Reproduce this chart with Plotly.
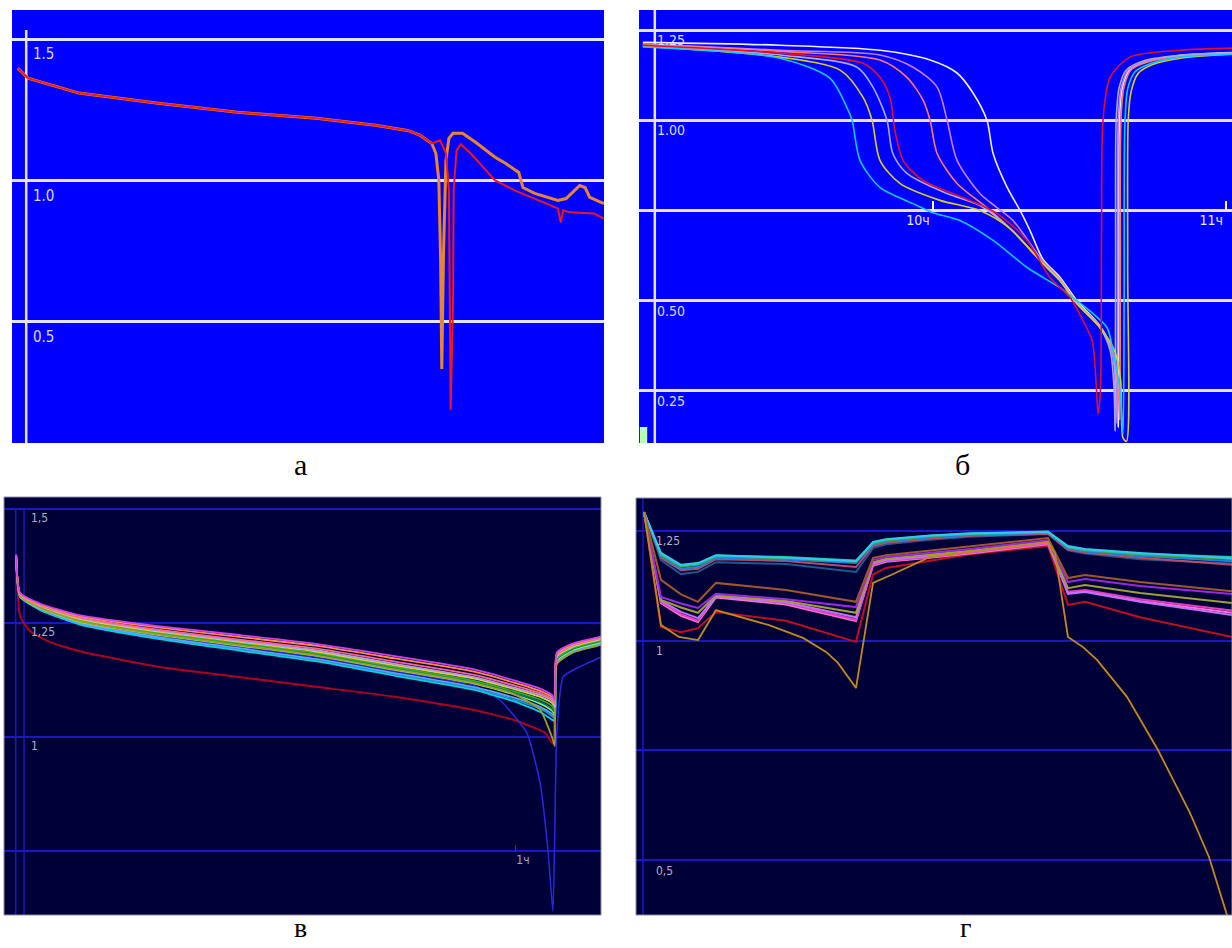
import plotly.graph_objects as go

W, H = 1232, 948
NARROW = "Liberation Sans Narrow, DejaVu Sans Condensed, Roboto, sans-serif"
SERIF = "Liberation Serif, Times New Roman, serif"

# ---------------- panel а (time in arbitrary units 0..100) ----------------
a_orange_t = [1.0, 2.7, 11.3, 24.7, 38.1, 51.4, 61.4, 66.8, 68.9, 70.9, 71.6, 72.1, 72.4, 72.6,
              72.9, 73.3, 73.8, 74.5, 76.1, 78.3, 81.6, 83.4, 85.6, 86.0, 86.3, 88.3, 92.2,
              93.6, 95.9, 96.8, 97.6, 100.0]
a_orange_v = [1.397, 1.362, 1.309, 1.273, 1.241, 1.220, 1.195, 1.177, 1.160, 1.131, 1.096, 1.0,
              0.716, 0.333, 0.752, 1.071, 1.149, 1.167, 1.167, 1.135, 1.082, 1.060, 1.028, 1.0,
              0.975, 0.954, 0.929, 0.936, 0.982, 0.975, 0.940, 0.918]
a_red_t = [1.0, 2.7, 11.3, 24.7, 38.1, 51.4, 61.4, 66.8, 68.9, 70.9, 72.3, 73.3, 73.8, 73.9, 74.1,
           74.5, 74.6, 75.1, 75.8, 77.5, 81.6, 84.9, 92.2, 92.7, 93.1, 94.2, 98.3, 100.0]
a_red_v = [1.397, 1.362, 1.309, 1.273, 1.241, 1.220, 1.195, 1.177, 1.160, 1.131, 1.142, 1.096,
           0.965, 0.574, 0.188, 0.574, 0.965, 1.106, 1.128, 1.095, 1.0, 0.965, 0.901, 0.851,
           0.894, 0.887, 0.883, 0.865]
a_ticks = [0.5, 1.0, 1.5]
a_ticktext = ["0.5", "1.0", "1.5"]

# ---------------- panel б (hours) ----------------
b_cyan_x = [9.01, 9.478, 9.648, 9.706, 9.724, 9.751, 9.819, 9.932, 10.0, 10.092, 10.205, 10.321,
            10.433, 10.491, 10.546, 10.594, 10.614, 10.638, 10.648, 10.652, 10.655, 10.665,
            10.69, 10.745, 10.843, 11.02]
b_cyan_v = [1.203, 1.172, 1.117, 1.036, 1.0, 0.889, 0.814, 0.769, 0.744, 0.722, 0.667, 0.592,
            0.536, 0.5, 0.464, 0.425, 0.36, 0.25, 0.13, 0.5, 1.0, 1.09, 1.135, 1.158, 1.175, 1.183]
b_olive_x = [9.01, 9.478, 9.683, 9.761, 9.792, 9.819, 9.887, 10.024, 10.16, 10.263, 10.375,
             10.433, 10.491, 10.570, 10.62, 10.64, 10.648, 10.66, 10.664, 10.666, 10.676, 10.70,
             10.751, 10.843, 11.02]
b_olive_v = [1.205, 1.175, 1.139, 1.064, 1.0, 0.889, 0.825, 0.778, 0.75, 0.70, 0.603, 0.556,
             0.492, 0.425, 0.36, 0.28, 0.12, 0.11, 0.6, 1.0, 1.08, 1.13, 1.155, 1.172, 1.183]
b_lav_x = [9.01, 9.478, 9.741, 9.795, 9.843, 9.863, 9.911, 10.048, 10.16, 10.263, 10.375, 10.433,
           10.491, 10.570, 10.605, 10.618, 10.621, 10.623, 10.625, 10.635, 10.66, 10.72, 10.843,
           11.02]
b_lav_v = [1.207, 1.181, 1.147, 1.092, 1.0, 0.908, 0.853, 0.797, 0.764, 0.70, 0.603, 0.556,
           0.492, 0.425, 0.36, 0.25, 0.14, 0.6, 1.0, 1.09, 1.14, 1.165, 1.18, 1.186]
b_red_x = [9.01, 9.478, 9.761, 9.819, 9.853, 9.870, 9.898, 9.966, 10.102, 10.218, 10.321, 10.399,
           10.468, 10.512, 10.543, 10.556, 10.563, 10.571, 10.575, 10.580, 10.604, 10.672,
           10.843, 11.02]
b_red_v = [1.208, 1.186, 1.158, 1.119, 1.064, 0.972, 0.889, 0.833, 0.786, 0.742, 0.667, 0.564,
           0.508, 0.444, 0.389, 0.278, 0.186, 0.25, 0.7, 1.0, 1.119, 1.175, 1.194, 1.2]
b_salmon_x = [9.01, 9.478, 9.819, 9.911, 9.966, 9.990, 10.014, 10.082, 10.184, 10.263, 10.375,
              10.433, 10.491, 10.570, 10.614, 10.632, 10.637, 10.639, 10.641, 10.651, 10.676,
              10.735, 10.843, 11.02]
b_salmon_v = [1.210, 1.191, 1.167, 1.119, 1.056, 1.0, 0.908, 0.825, 0.758, 0.70, 0.603, 0.556,
              0.492, 0.425, 0.36, 0.25, 0.17, 0.6, 1.0, 1.09, 1.14, 1.162, 1.178, 1.186]
b_violet_x = [9.01, 9.478, 9.819, 9.932, 10.014, 10.048, 10.082, 10.160, 10.218, 10.273, 10.375,
              10.433, 10.491, 10.570, 10.61, 10.625, 10.628, 10.630, 10.632, 10.642, 10.667,
              10.727, 10.843, 11.02]
b_violet_v = [1.212, 1.194, 1.181, 1.147, 1.092, 1.0, 0.889, 0.797, 0.758, 0.722, 0.61, 0.56,
              0.495, 0.428, 0.36, 0.25, 0.16, 0.6, 1.0, 1.09, 1.14, 1.163, 1.178, 1.185]
b_white_x = [9.01, 9.478, 9.819, 9.990, 10.082, 10.137, 10.184, 10.205, 10.253, 10.297, 10.331,
             10.375, 10.433, 10.491, 10.570, 10.612, 10.628, 10.632, 10.634, 10.636, 10.646,
             10.671, 10.73, 10.843, 11.02]
b_white_v = [1.216, 1.208, 1.194, 1.167, 1.131, 1.075, 1.0, 0.908, 0.814, 0.75, 0.694, 0.615,
             0.565, 0.50, 0.43, 0.36, 0.25, 0.15, 0.6, 1.0, 1.09, 1.14, 1.163, 1.18, 1.188]
b_ticks = [0.25, 0.5, 0.75, 1.0, 1.25]
b_ticktext = ["0.25", "0.50", "", "1.00", "1.25"]
b_hours = [10, 11]
b_hourtext = ["10ч", "11ч"]

# ---------------- panel в (hours) ----------------
v_x = [-0.016, -0.008, 0.033, 0.112, 0.272, 0.433, 0.593, 0.754, 0.915, 0.996, 1.049, 1.073,
       1.079, 1.083, 1.116, 1.173]
v_magenta = [1.400, 1.316, 1.292, 1.267, 1.243, 1.224, 1.204, 1.177, 1.148, 1.124, 1.106, 1.092, 1.080, 1.185, 1.205, 1.220]
v_orange = [1.398, 1.314, 1.290, 1.265, 1.240, 1.220, 1.200, 1.172, 1.143, 1.119, 1.101, 1.088, 1.076, 1.182, 1.203, 1.219]
v_pink = [1.397, 1.313, 1.289, 1.262, 1.235, 1.214, 1.194, 1.165, 1.136, 1.113, 1.096, 1.083, 1.073, 1.180, 1.201, 1.217]
v_lilac = [1.398, 1.314, 1.288, 1.261, 1.233, 1.211, 1.190, 1.160, 1.131, 1.108, 1.092, 1.080, 1.070, 1.178, 1.200, 1.216]
v_yellow = [1.396, 1.312, 1.287, 1.259, 1.231, 1.209, 1.187, 1.157, 1.128, 1.105, 1.088, 1.075, 1.066, 1.176, 1.198, 1.214]
v_green = [1.395, 1.311, 1.285, 1.257, 1.228, 1.206, 1.184, 1.153, 1.123, 1.100, 1.082, 1.068, 1.060, 1.172, 1.195, 1.212]
v_darkteal = [1.394, 1.310, 1.284, 1.255, 1.226, 1.203, 1.181, 1.150, 1.120, 1.096, 1.077, 1.062, 1.055, 1.170, 1.193, 1.210]
v_lime = [1.394, 1.309, 1.282, 1.253, 1.224, 1.201, 1.178, 1.147, 1.117, 1.093, 1.073, 1.058, 1.050, 1.168, 1.191, 1.208]
v_lightblue = [1.393, 1.308, 1.280, 1.250, 1.219, 1.195, 1.171, 1.140, 1.109, 1.086, 1.066, 1.051, 1.045, 1.165, 1.189, 1.206]
v_cyan = [1.392, 1.307, 1.278, 1.247, 1.215, 1.190, 1.166, 1.134, 1.103, 1.078, 1.055, 1.038, 1.035, 1.162, 1.186, 1.203]
v_olive = [1.395, 1.310, 1.283, 1.254, 1.225, 1.202, 1.179, 1.148, 1.118, 1.094, 1.060, 1.000, 0.980, 1.160, 1.185, 1.202]
v_tealblue = [1.393, 1.308, 1.279, 1.248, 1.217, 1.192, 1.168, 1.137, 1.106, 1.082, 1.062, 1.046, 1.040, 1.163, 1.187, 1.204]
v_red_x = [-0.016, -0.008, 0.012, 0.053, 0.120, 0.272, 0.433, 0.593, 0.754, 0.915, 0.996, 1.059,
           1.075, 1.083, 1.116, 1.173]
v_red = [1.395, 1.265, 1.232, 1.208, 1.186, 1.154, 1.132, 1.110, 1.088, 1.059, 1.037, 1.009,
         0.985, 1.165, 1.193, 1.210]
v_blue_x = [-0.016, -0.008, 0.033, 0.112, 0.272, 0.433, 0.593, 0.754, 0.915, 0.967, 1.022, 1.049,
            1.065, 1.075, 1.079, 1.083, 1.096, 1.130, 1.173]
v_blue = [1.393, 1.308, 1.280, 1.251, 1.221, 1.198, 1.175, 1.144, 1.113, 1.081, 1.009, 0.899,
          0.752, 0.618, 0.800, 1.009, 1.132, 1.154, 1.175]
v_ticks = [0.75, 1.0, 1.25, 1.5]
v_ticktext = ["", "1", "1,25", "1,5"]
v_hours = [1]
v_hourtext = ["1ч"]

# ---------------- panel г (time in arbitrary units 0..100) ----------------
g_x = [1.34, 4.19, 7.55, 10.4, 13.42, 25.17, 36.91, 39.77, 41.95, 49.33, 56.04, 69.13, 72.48,
       75.34, 84.56, 100.0]
g_cyan = [1.292, 1.199, 1.172, 1.176, 1.194, 1.188, 1.180, 1.224, 1.230, 1.239, 1.244, 1.247, 1.215, 1.208, 1.199, 1.187]
g_teal = [1.292, 1.196, 1.170, 1.174, 1.193, 1.190, 1.182, 1.222, 1.229, 1.238, 1.242, 1.246, 1.212, 1.206, 1.197, 1.190]
g_green = [1.292, 1.194, 1.168, 1.172, 1.191, 1.187, 1.179, 1.220, 1.227, 1.237, 1.243, 1.248, 1.213, 1.205, 1.195, 1.185]
g_blue = [1.292, 1.192, 1.163, 1.167, 1.188, 1.184, 1.176, 1.218, 1.225, 1.235, 1.240, 1.245, 1.210, 1.203, 1.192, 1.180]
g_rose = [1.292, 1.188, 1.160, 1.163, 1.185, 1.181, 1.167, 1.215, 1.222, 1.232, 1.238, 1.243, 1.207, 1.200, 1.188, 1.172]
g_slate = [1.292, 1.183, 1.151, 1.156, 1.178, 1.174, 1.156, 1.210, 1.219, 1.229, 1.236, 1.242, 1.205, 1.198, 1.185, 1.175]
g_brown = [1.292, 1.138, 1.105, 1.088, 1.131, 1.115, 1.088, 1.188, 1.194, 1.205, 1.215, 1.233, 1.142, 1.149, 1.133, 1.112]
g_purple = [1.292, 1.099, 1.084, 1.074, 1.106, 1.094, 1.076, 1.183, 1.190, 1.199, 1.208, 1.228, 1.133, 1.140, 1.124, 1.106]
g_olive = [1.292, 1.092, 1.075, 1.063, 1.103, 1.090, 1.063, 1.178, 1.186, 1.195, 1.204, 1.225, 1.119, 1.126, 1.108, 1.085]
g_violet = [1.292, 1.090, 1.065, 1.051, 1.100, 1.087, 1.053, 1.175, 1.183, 1.192, 1.202, 1.223, 1.106, 1.110, 1.088, 1.058]
g_magenta = [1.292, 1.088, 1.060, 1.045, 1.103, 1.085, 1.047, 1.172, 1.181, 1.190, 1.200, 1.221, 1.111, 1.115, 1.094, 1.068]
g_pink = [1.292, 1.085, 1.056, 1.042, 1.098, 1.082, 1.044, 1.170, 1.179, 1.188, 1.198, 1.219, 1.108, 1.112, 1.090, 1.063]
g_red = [1.292, 1.031, 1.019, 1.028, 1.065, 1.045, 0.997, 1.150, 1.165, 1.182, 1.196, 1.215, 1.081, 1.088, 1.053, 1.008]
g_gold_x = [1.34, 4.19, 7.21, 10.4, 13.42, 22.32, 28.02, 31.88, 33.89, 36.91, 39.77, 42.79, 49.33,
            69.13, 70.3, 72.48, 75.0, 77.35, 82.38, 87.58, 92.95, 96.14, 99.16]
g_gold = [1.292, 1.035, 1.008, 1.001, 1.069, 1.035, 1.006, 0.974, 0.949, 0.892, 1.131, 1.149,
          1.190, 1.224, 1.199, 1.008, 0.985, 0.956, 0.872, 0.751, 0.608, 0.508, 0.376]
g_ticks = [0.5, 0.75, 1.0, 1.25]
g_ticktext = ["0,5", "", "1", "1,25"]

fig = go.Figure()


def add(xs, ys, color, width, ax, shape="linear", smoothing=1.0):
    line = dict(color=color, width=width, shape=shape)
    if shape == "spline":
        line["smoothing"] = smoothing
    fig.add_trace(go.Scatter(x=xs, y=ys, mode="lines", xaxis=ax[0], yaxis=ax[1], line=line,
                             showlegend=False, hoverinfo="skip"))


# а
add(a_orange_t, a_orange_v, "#e8862e", 3.0, ("x", "y"))
add(a_red_t, a_red_v, "#f01818", 2.0, ("x", "y"))

# б
for xs, ys, col in [(b_white_x, b_white_v, "#eeeeff"), (b_violet_x, b_violet_v, "#c080ff"),
                    (b_salmon_x, b_salmon_v, "#ff7a6a"), (b_lav_x, b_lav_v, "#a8a8f8"),
                    (b_olive_x, b_olive_v, "#d8d020"), (b_cyan_x, b_cyan_v, "#10c8ff"),
                    (b_red_x, b_red_v, "#e0102a")]:
    add(xs, ys, col, 1.6, ("x2", "y2"), "spline", 0.8)

# в
add(v_red_x, v_red, "#b00020", 2.0, ("x3", "y3"), "spline", 0.5)
add(v_blue_x, v_blue, "#2828e0", 1.5, ("x3", "y3"), "spline", 0.5)
for ys, col in [(v_tealblue, "#2090c0"), (v_cyan, "#00d0e8"), (v_lightblue, "#60a0ff"),
                (v_lime, "#80ff60"), (v_darkteal, "#107070"), (v_green, "#30b030"),
                (v_olive, "#a0a020"), (v_yellow, "#e0d040"), (v_lilac, "#b0a0d8"),
                (v_pink, "#ff60a0"), (v_orange, "#ff9040"), (v_magenta, "#d040f0")]:
    add(v_x, ys, col, 1.8, ("x3", "y3"), "spline", 0.5)

# г
for ys, col in [(g_slate, "#1a5a90"), (g_rose, "#c04868"), (g_blue, "#2080e0"),
                (g_green, "#40a040"), (g_teal, "#20c0a0"), (g_cyan, "#30c8f0"),
                (g_red, "#c01020"), (g_pink, "#ff70d0"), (g_magenta, "#e040c0"),
                (g_violet, "#c070ff"), (g_olive, "#a0a030"), (g_purple, "#9a28e0"),
                (g_brown, "#a05828")]:
    add(g_x, ys, col, 2.0, ("x4", "y4"))
add(g_gold_x, g_gold, "#c08a20", 1.8, ("x4", "y4"))


def dx(l, r):
    return [l / W, r / W]


def dy(t, b):
    return [1 - b / H, 1 - t / H]


hidden_x = dict(showgrid=False, zeroline=False, showticklabels=False, ticks="", showline=False)

fig.update_layout(
    width=W, height=H, margin=dict(l=0, r=0, t=0, b=0),
    paper_bgcolor="white", plot_bgcolor="white",
    xaxis=dict(domain=dx(12, 604), range=[0, 100], anchor="y", **hidden_x),
    yaxis=dict(domain=dy(10, 443), range=[0.0709, 1.603], anchor="x",
               tickvals=a_ticks, ticktext=a_ticktext, showgrid=True, gridcolor="#e4e4ff",
               gridwidth=2.5, zeroline=False, ticks="", ticklabelposition="inside",
               ticklabelstandoff=18, ticklabelshift=15,
               tickfont=dict(family=NARROW, size=15, color="#d8d8ff")),
    xaxis2=dict(domain=dx(639, 1232), range=[8.997, 11.02], anchor="free", position=1 - 210 / H,
                tickvals=b_hours, ticktext=b_hourtext, ticks="inside", ticklen=9, tickwidth=1.5,
                tickcolor="#ffffff", showgrid=False, zeroline=False, showline=False,
                ticklabelshift=-15, tickfont=dict(family=NARROW, size=14, color="#e8e8ff")),
    yaxis2=dict(domain=dy(10, 443), range=[0.1056, 1.3056], anchor="x2",
                tickvals=b_ticks, ticktext=b_ticktext, showgrid=True, gridcolor="#e4e4ff",
                gridwidth=2.5, zeroline=False, ticks="", ticklabelposition="inside",
                ticklabelstandoff=15, ticklabelshift=10,
                tickfont=dict(family=NARROW, size=14, color="#d8d8ff")),
    xaxis3=dict(domain=dx(4, 601), range=[-0.0407, 1.1728], anchor="free", position=1 - 850.5 / H,
                tickvals=v_hours, ticktext=v_hourtext, ticks="inside", ticklen=6, tickwidth=1,
                tickcolor="#3030d0", showgrid=False, zeroline=False, showline=False,
                ticklabelshift=7, tickfont=dict(family=NARROW, size=12, color="#a8a8c0")),
    yaxis3=dict(domain=dy(497, 915), range=[0.6096, 1.526], anchor="x3",
                tickvals=v_ticks, ticktext=v_ticktext, showgrid=True, gridcolor="#1818c8",
                gridwidth=1.5, zeroline=False, ticks="", ticklabelposition="inside",
                ticklabelstandoff=24, ticklabelshift=9,
                tickfont=dict(family=NARROW, size=12, color="#b0b0c8")),
    xaxis4=dict(domain=dx(636, 1232), range=[0, 100], anchor="y4", **hidden_x),
    yaxis4=dict(domain=dy(498, 915), range=[0.376, 1.324], anchor="x4",
                tickvals=g_ticks, ticktext=g_ticktext, showgrid=True, gridcolor="#1818c8",
                gridwidth=1.5, zeroline=False, ticks="", ticklabelposition="inside",
                ticklabelstandoff=17, ticklabelshift=10,
                tickfont=dict(family=NARROW, size=12, color="#b0b0c8")),
)

shapes = []
for ax, col in [("", "#0000ff"), ("2", "#0000ff"), ("3", "#000038"), ("4", "#000038")]:
    shapes.append(dict(type="rect", xref=f"x{ax} domain", yref=f"y{ax} domain", x0=0, x1=1,
                       y0=0, y1=1, fillcolor=col, line=dict(width=0), layer="below"))
for ax in ["3", "4"]:
    shapes.append(dict(type="rect", xref=f"x{ax} domain", yref=f"y{ax} domain", x0=0, x1=1,
                       y0=0, y1=1, fillcolor="rgba(0,0,0,0)",
                       line=dict(width=1, color="#8c8ca8"), layer="above"))
# axis lines
shapes.append(dict(type="line", xref="x", yref="y", x0=2.4, x1=2.4, y0=0.0709, y1=1.532,
                   line=dict(color="#e4e4ff", width=2.5), layer="below"))
shapes.append(dict(type="line", xref="x2", yref="y2 domain", x0=9.051, x1=9.051, y0=0, y1=1,
                   line=dict(color="#e4e4ff", width=2.5), layer="below"))
for xv in [-0.017, 0.0]:
    shapes.append(dict(type="line", xref="x3", yref="y3", x0=xv, x1=xv, y0=0.6096, y1=1.5,
                       line=dict(color="#1818c8", width=1.5), layer="below"))
shapes.append(dict(type="line", xref="x4", yref="y4 domain", x0=1.17, x1=1.17, y0=0, y1=1,
                   line=dict(color="#1818c8", width=1.5), layer="below"))
# small marker block in б
shapes.append(dict(type="rect", xref="x2", yref="y2", x0=9.0, x1=9.025, y0=0.1056, y1=0.15,
                   fillcolor="#b8ffb8", line=dict(width=0), layer="above"))
fig.update_layout(shapes=shapes)

captions = [("а", 300, 464, 30), ("б", 962, 464, 30), ("в", 300, 927, 28), ("г", 965, 927, 28)]
for txt, px, py, fs in captions:
    fig.add_annotation(text=txt, x=px / W, y=1 - py / H, xref="paper", yref="paper",
                       xanchor="center", yanchor="middle", showarrow=False, borderpad=0,
                       font=dict(family=SERIF, size=fs, color="black"))

fig.write_html("out.html", config={"displayModeBar": False},
               post_script="document.body.style.margin='0';")
